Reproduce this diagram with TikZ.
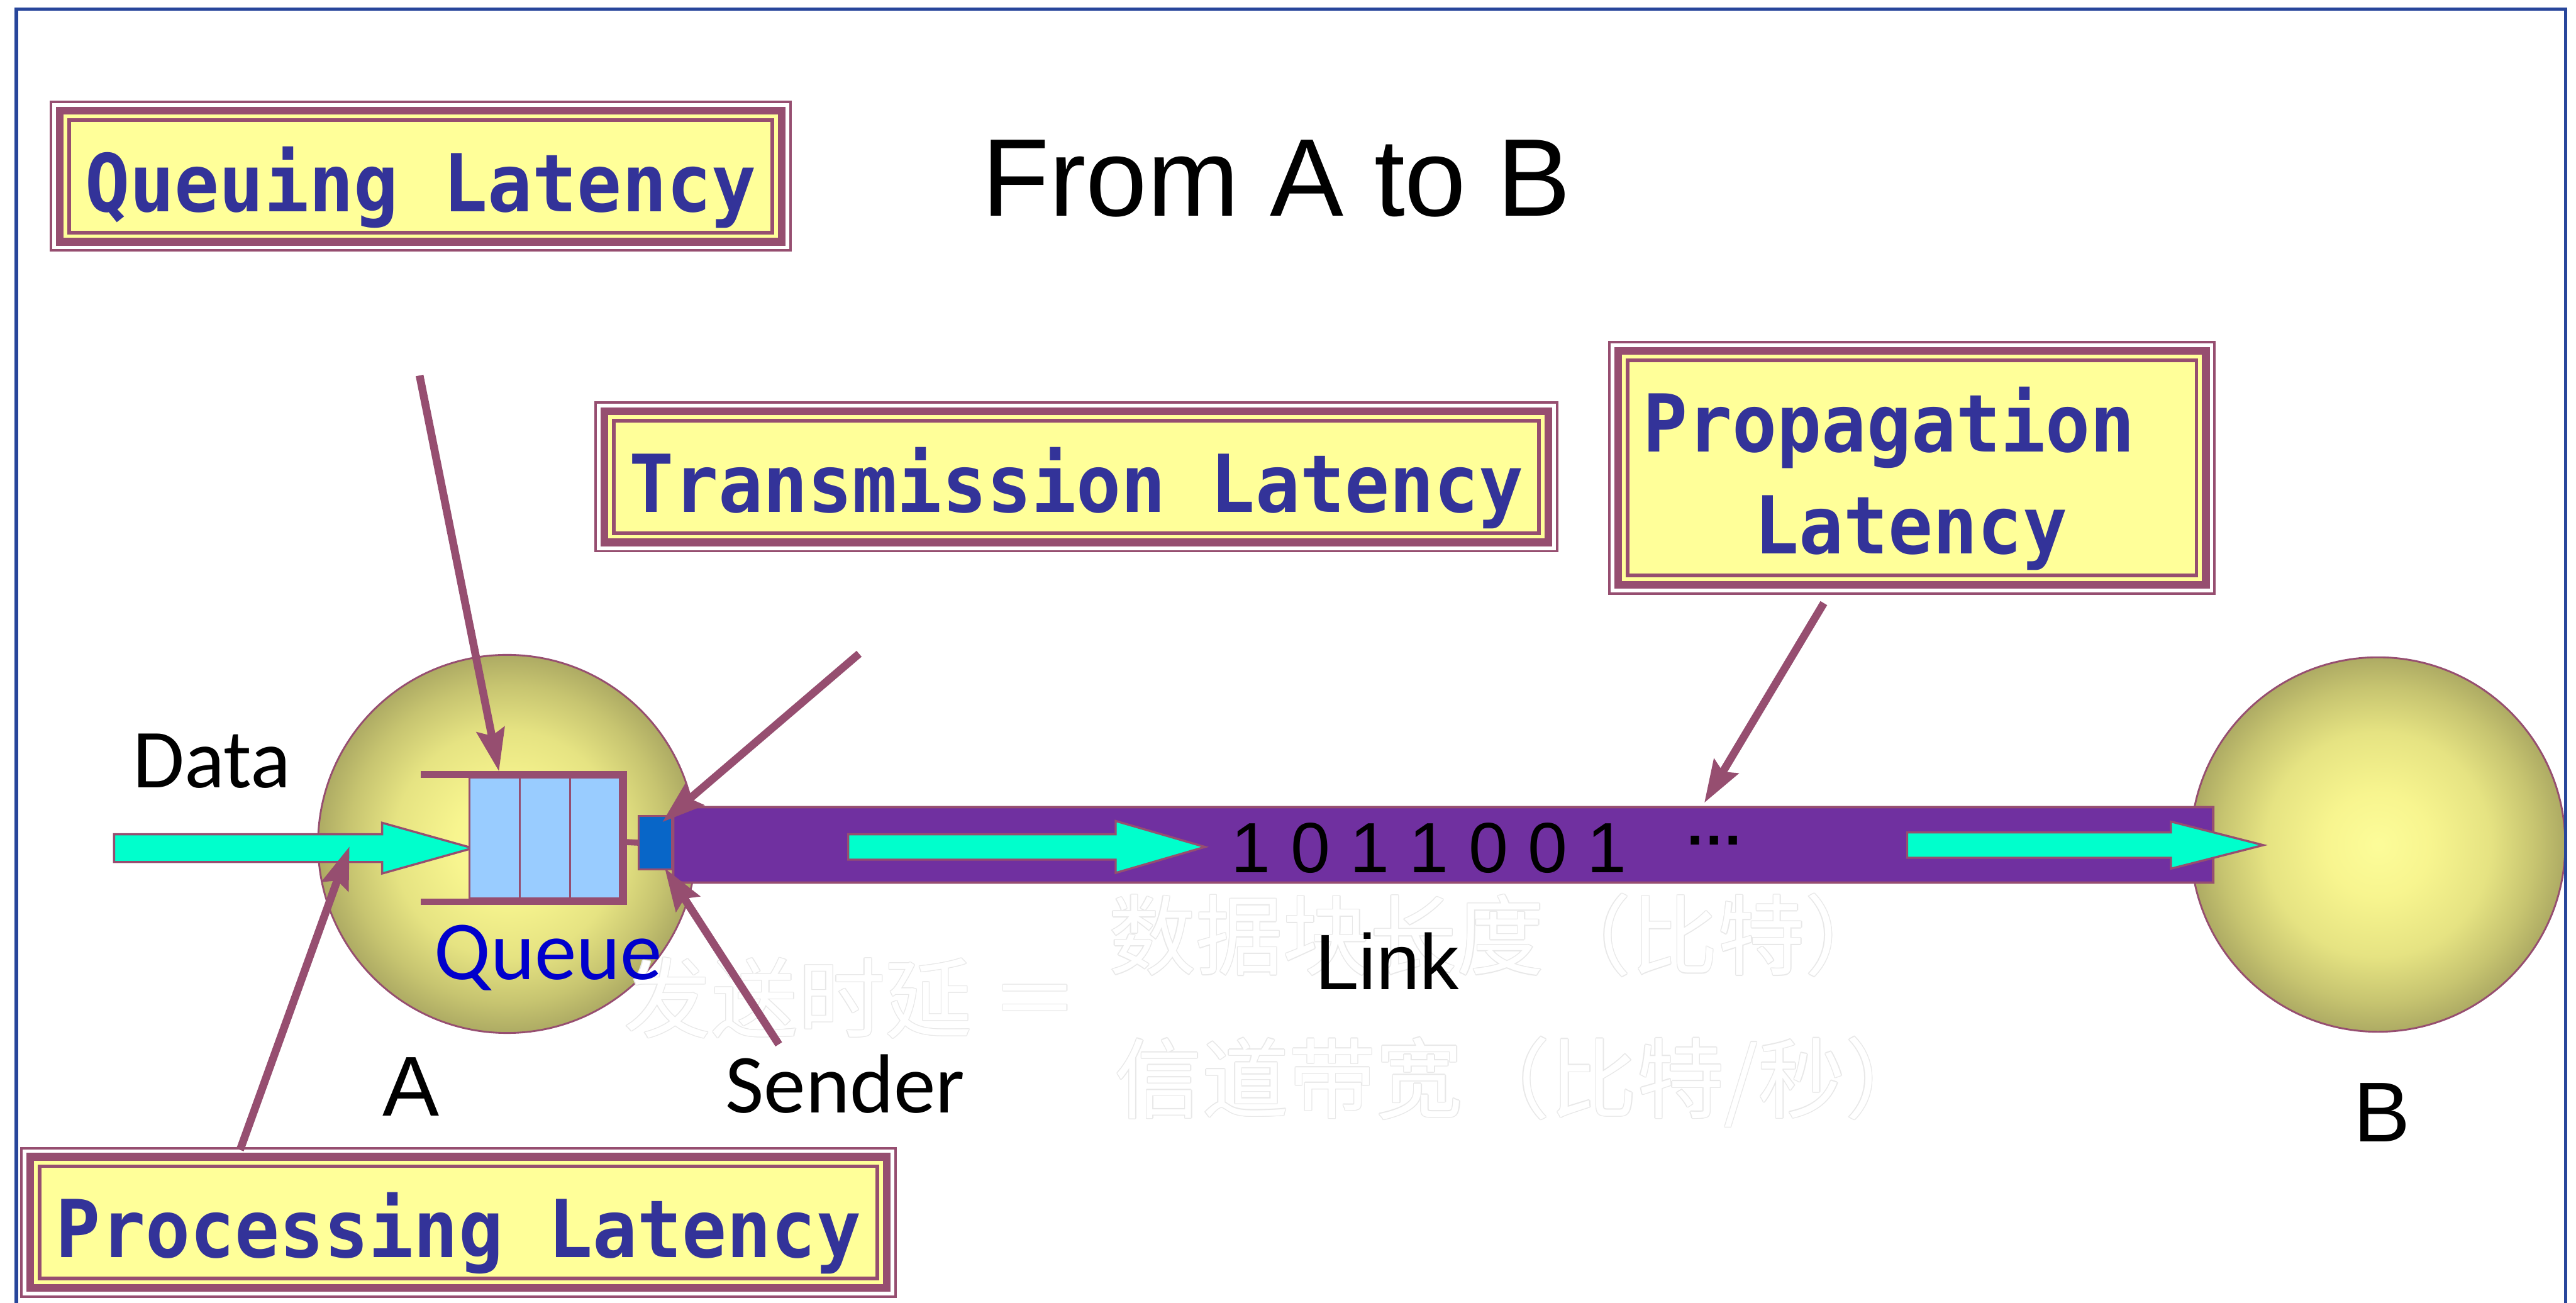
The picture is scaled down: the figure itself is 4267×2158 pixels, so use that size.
\documentclass[tikz,border=0pt]{standalone}
\usepackage{fontspec}
\usepackage{graphicx}
\setmainfont{Liberation Sans}
\newfontfamily\arialf{Liberation Sans}
\newfontfamily\calf{Carlito}
\newfontfamily\monof{DejaVu Sans Mono}
\newfontfamily\cjk{Noto Sans CJK SC}
\usetikzlibrary{arrows.meta,backgrounds,calc}

\definecolor{mrn}{RGB}{150,78,112}
\definecolor{boxyel}{RGB}{255,255,153}
\definecolor{latblue}{RGB}{51,51,153}
\definecolor{cyanarr}{RGB}{0,255,204}
\definecolor{cellblue}{RGB}{153,204,255}
\definecolor{sendblue}{RGB}{8,102,200}
\definecolor{linkpurple}{RGB}{112,48,160}
\definecolor{framecol}{RGB}{40,70,155}
\definecolor{qblue}{RGB}{0,0,204}
\definecolor{halo}{RGB}{232,232,232}

% radial fill of the two hosts: bright core, olive rim
\pgfdeclareradialshading{hostshade}{\pgfpoint{0bp}{0bp}}{%
  rgb(0bp)=(0.99,0.99,0.60);
  rgb(7bp)=(0.97,0.96,0.56);
  rgb(15bp)=(0.90,0.89,0.51);
  rgb(21bp)=(0.78,0.77,0.44);
  rgb(25bp)=(0.68,0.67,0.39);
  rgb(50bp)=(0.68,0.67,0.39)}

% white lettering with a faint grey rim
\newlength\ghostw
\setlength\ghostw{0.42pt}
\newcommand\ghosttext[1]{%
  \makebox[0pt][l]{\color{halo}\kern\ghostw#1}%
  \makebox[0pt][l]{\color{halo}\kern-\ghostw#1}%
  \makebox[0pt][l]{\color{halo}\raisebox{\ghostw}{#1}}%
  \makebox[0pt][l]{\color{halo}\raisebox{-\ghostw}{#1}}%
  \makebox[0pt][l]{\color{halo}\kern0.7\ghostw\raisebox{0.7\ghostw}{#1}}%
  \makebox[0pt][l]{\color{halo}\kern-0.7\ghostw\raisebox{0.7\ghostw}{#1}}%
  \makebox[0pt][l]{\color{halo}\kern0.7\ghostw\raisebox{-0.7\ghostw}{#1}}%
  \makebox[0pt][l]{\color{halo}\kern-0.7\ghostw\raisebox{-0.7\ghostw}{#1}}%
  {\color{white}#1}}

% layered border of a latency label box
\newcommand\latframe[1]{%
  \begin{scope}[on background layer]
    \draw[mrn, line width=0.04cm, fill=white]
      ([shift={(-30,-30)}]#1.north west) rectangle ([shift={(30,30)}]#1.south east);
    \fill[mrn] ([shift={(-22,-22)}]#1.north west) rectangle ([shift={(22,22)}]#1.south east);
    \fill[boxyel] ([shift={(-9,-9)}]#1.north west) rectangle ([shift={(9,9)}]#1.south east);
  \end{scope}}

% cyan block arrow: tail x, head base x, tip x, centre y, shaft half, head half
\newcommand\blockarrow[6]{%
  \filldraw[barrow] (#1,{#4-#5}) -- (#2,{#4-#5}) -- (#2,{#4-#6}) -- (#3,#4)
    -- (#2,{#4+#6}) -- (#2,{#4+#5}) -- (#1,{#4+#5}) -- cycle;}

\tikzset{
  latbox/.style={rectangle, draw=mrn, line width=0.06cm, fill=boxyel, inner sep=0, outer sep=0,
    text height=1.16cm, text depth=0cm, text=latblue,
    font={\monof\bfseries\fontsize{35pt}{40pt}\selectfont}},
  lattext/.style={inner sep=0, text=latblue, font={\monof\bfseries\fontsize{35pt}{40pt}\selectfont}},
  ptr/.style={draw=mrn, line width=0.13cm, -{Stealth[length=0.7cm, width=0.46cm, inset=0.1cm]}},
  barrow/.style={fill=cyanarr, draw=mrn, line width=0.035cm},
  ball/.style={circle, draw=mrn, line width=0.03cm, shading=hostshade, inner sep=0},
  cell/.style={rectangle, draw=mrn, line width=0.03cm, fill=cellblue, minimum width=0.83cm,
    minimum height=2.0cm, inner sep=0, outer sep=0},
  lbl/.style={inner sep=0, anchor=base},
  calfont/.style={font={\calf\fontsize{39.5pt}{46pt}\selectfont}},
  ghost/.style={inner sep=0, anchor=base west, font={\cjk\fontsize{41pt}{48pt}\selectfont}},
}

\begin{document}
\begin{tikzpicture}[x=0.01cm, y=-0.01cm]
\useasboundingbox (0,0) rectangle (4267,2158);
\begin{scope}[on background layer]
  \fill[white] (0,0) rectangle (4267,2158);
\end{scope}

% latency label boxes
\node[latbox, minimum width=11.64cm, minimum height=1.86cm] (qlat) at (697,292)
  {\scalebox{1}[1.075]{Queuing Latency}};
\latframe{qlat}
\node[latbox, minimum width=15.32cm, minimum height=1.86cm] (tlat) at (1783,790)
  {\scalebox{1}[1.075]{Transmission Latency}};
\latframe{tlat}
\node[latbox, minimum width=9.42cm, minimum height=3.56cm] (plat) at (3167,775) {};
\latframe{plat}
\node[lattext, anchor=base] (platA) at (3129,748) {\scalebox{1}[1.075]{Propagation}};
\node[lattext, anchor=base] (platB) at (3165,917) {\scalebox{1}[1.075]{Latency}};
\node[latbox, minimum width=13.87cm, minimum height=1.86cm] (proc) at (759.5,2025)
  {\scalebox{1}[1.075]{Processing Latency}};
\latframe{proc}

% title
\node[lbl, font={\arialf\fontsize{52pt}{60pt}\selectfont}] (title) at (2114,358) {From A to B};

% hosts
\node[ball, minimum size=6.26cm] (hostA) at (840,1398) {};
\node[ball, minimum size=6.2cm] (hostB) at (3939,1399) {};

% transmission delay formula
\node[ghost] (fa) at (1033,1708) {\ghosttext{发送时延 ＝}};
\node[ghost] (fb) at (1836,1604) {\ghosttext{数据块长度（比特）}};
\node[ghost] (fc) at (1846,1841) {\ghosttext{信道带宽（比特/秒）}};

% incoming data
\blockarrow{189}{633}{783}{1405}{23}{42}
\coordinate (dtip) at (579,1402);

% queue
\node[cell] (cell1) at (819.5,1388) {};
\node[cell] (cell2) at (902.5,1388) {};
\node[cell] (cell3) at (985.5,1388) {};
\draw[mrn, line width=0.11cm] (697,1283) -- (1033,1283) -- (1033,1494) -- (697,1494);
\coordinate (qright) at (1038,1395);

% sender
\node[rectangle, draw=mrn, line width=0.03cm, fill=sendblue, minimum width=0.55cm,
  minimum height=0.88cm, inner sep=0, outer sep=0] (sender) at (1085.5,1396) {};
\draw[mrn, line width=0.1cm] (qright) -- (sender.west);

% link
\filldraw[fill=linkpurple, draw=mrn, line width=0.04cm]
  (3666,1337) -- (1134,1337) .. controls (1115,1337) .. (1115,1356) -- (1115,1443)
  .. controls (1115,1462) .. (1134,1462) -- (3666,1462) -- cycle;
\coordinate (linkmark) at (2823,1330);
\blockarrow{1405}{1848}{1996}{1403}{21}{43}
\blockarrow{3159}{3596}{3749}{1400}{21}{39}
\node[inner sep=0, anchor=base west, font={\arialf\fontsize{33.5pt}{40pt}\selectfont}] (bits)
  at (2039,1445) {1 0 1 1 0 0 1};
\node[inner sep=0, anchor=base, font={\arialf\bfseries\fontsize{28pt}{34pt}\selectfont}] (dots)
  at (2840,1445) {\raisebox{13pt}{…}};

% labels
\node[lbl, calfont] (datalbl) at (351,1305) {Data};
\node[lbl, calfont, text=qblue] (queuelbl) at (908,1622) {Queue};
\node[lbl, calfont] (sndlbl) at (1400,1843) {Sender};
\node[lbl, font={\arialf\fontsize{37pt}{44pt}\selectfont}] (linklbl) at (2298,1639) {Link};
\node[lbl, font={\arialf\fontsize{40pt}{46pt}\selectfont}] (albl) at (681,1849) {A};
\node[lbl, font={\arialf\fontsize{40pt}{46pt}\selectfont}] (blbl) at (3946,1891) {B};

% pointers from the latency labels
\coordinate (qtail) at (695,622);
\coordinate (ttail) at (1423,1083);
\draw[ptr] (qtail) -- ([shift={(7,-10)}]cell1.north);
\draw[ptr] (ttail) -- ([shift={(-16,10)}]sender.north east);
\draw[ptr] ([shift={(-110,-113)}]sndlbl.base) -- ([shift={(-12,-2)}]sender.south east);
\draw[ptr] ([shift={(332,-27)}]proc.north west) -- (dtip);
\draw[ptr] ([shift={(-146,46)}]plat.south) -- (linkmark);

% slide frame
\draw[framecol, line width=0.055cm] (27,15) rectangle (4250,2300);
\end{tikzpicture}
\end{document}
